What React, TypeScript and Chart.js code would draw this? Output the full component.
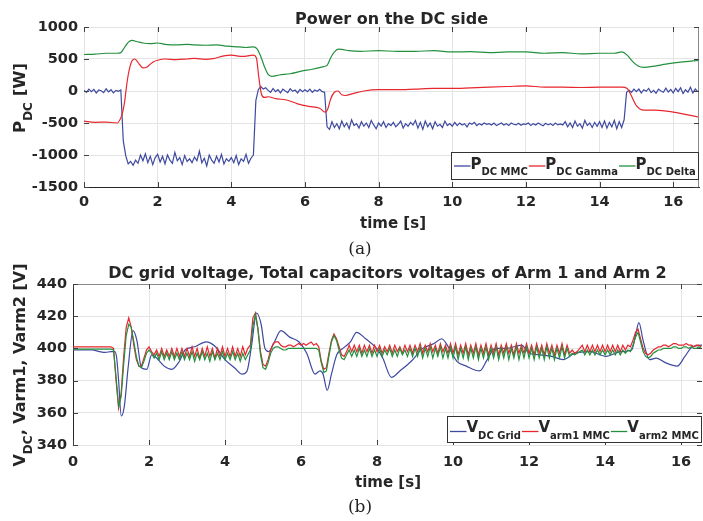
import React, { useEffect, useRef } from "react";
import { Chart, registerables } from "chart.js";

Chart.register(...registerables);

// ---------------- data ----------------
const SAMPLES_PER_SECOND = 15;

// (a) Power on the DC side
const powerTitle = "Power on the DC side";
const powerXMax = 16.7;
const powerYMin = -1500;
const powerYMax = 1000;
const powerYStep = 500;
const timeStep = 2;

// P_DC MMC, one value every 1/15 s (one row per second)
const pMmc = [
  10, -20, 30, -10, 25, -30, 15, 5, -25, 35, -15, 20, -30, 10, -5,
  15, -780, -1010, -1140, -1100, -1160, -1080, -1130, -1000, -1090, -980, -1120, -1020, -1150, -1040,
  -990, -1110, -1020, -1140, -1000, -1080, -1130, -960, -1090, -1040, -1150, -1010, -1100, -1060, -1120,
  -1030, -1090, -940, -1120, -1050, -1170, -1000, -1080, -1130, -1020, -1110, -990, -1140, -1060, -1100,
  -1040, -1120, -1010, -1150, -1060, -1100, -990, -1130, -1050, -1000, -150, 20, 70, 30, 50,
  10, -20, 40, -10, 20, -30, 30, 0, -25, 35, -5, 15, -30, 25, -10,
  20, -10, 30, -20, 15, -5, 25, -10, -20, -560, -600, -480, -570, -510, -590,
  -470, -560, -500, -590, -450, -540, -510, -580, -480, -550, -500, -570, -460, -530, -590,
  -500, -550, -480, -570, -510, -540, -490, -560, -520, -470, -580, -510, -550, -490, -530,
  -460, -580, -490, -600, -470, -560, -500, -590, -480, -550, -520, -570, -470, -540, -510,
  -550, -490, -540, -500, -530, -510, -560, -500, -520, -490, -540, -510, -530, -500, -520,
  -510, -530, -500, -540, -520, -500, -530, -510, -540, -500, -520, -530, -505, -535, -515,
  -520, -500, -540, -510, -530, -500, -525, -545, -505, -530, -510, -540, -500, -530, -515,
  -530, -480, -560, -500, -570, -470, -550, -510, -580, -460, -540, -500, -570, -490, -550,
  -480, -570, -470, -580, -490, -560, -460, -590, -480, -570, -450, -20, 10, -20, 30,
  -10, 30, -30, 20, -5, 40, -25, 10, -35, 30, 0, -20, 45, -15, 25,
  -30, 40, -10, 50, -40, 20, -20, 60, -30, 30, -10,
];

// P_DC Gamma: [time s, power W]
const pGamma: [number, number][] = [
  [0, -470], [0.3, -490], [0.6, -485], [0.9, -500], [1.0, -420], [1.05, -330], [1.1, -180],
  [1.15, 50], [1.2, 250], [1.3, 470], [1.38, 500], [1.5, 420], [1.6, 360], [1.7, 370],
  [1.8, 420], [1.9, 460], [2.0, 480], [2.2, 500], [2.5, 490], [2.8, 500], [3.0, 510],
  [3.3, 495], [3.5, 505], [3.8, 550], [4.0, 560], [4.3, 540], [4.6, 560], [4.68, 520],
  [4.75, 200], [4.82, -50], [4.9, -100], [5.0, -90], [5.2, -120], [5.5, -140], [5.8, -200],
  [6.1, -240], [6.4, -270], [6.55, -330], [6.62, -280], [6.7, -120], [6.8, -20], [6.9, 0],
  [7.0, -60], [7.1, -70], [7.3, -40], [7.6, 0], [8.0, 20], [8.5, 20], [9.0, 30], [9.5, 40],
  [10.0, 40], [10.5, 50], [11.0, 60], [11.5, 70], [12.0, 80], [12.5, 60], [13.0, 60],
  [13.5, 55], [14.0, 60], [14.6, 60], [14.75, 40], [14.85, -60], [15.0, -230], [15.2, -300],
  [15.5, -300], [16.0, -330], [16.7, -410],
];

// P_DC Delta: [time s, power W]
const pDelta: [number, number][] = [
  [0, 570], [0.3, 575], [0.6, 590], [0.9, 590], [1.0, 600], [1.1, 680], [1.2, 760],
  [1.3, 790], [1.45, 770], [1.6, 750], [1.8, 740], [2.0, 750], [2.2, 730], [2.5, 720],
  [2.8, 730], [3.0, 720], [3.3, 715], [3.6, 720], [3.9, 700], [4.2, 690], [4.4, 680],
  [4.6, 690], [4.7, 660], [4.8, 540], [4.9, 380], [5.0, 260], [5.1, 230], [5.3, 250],
  [5.6, 270], [5.9, 310], [6.2, 340], [6.5, 380], [6.6, 400], [6.7, 520], [6.8, 610],
  [6.9, 655], [7.0, 650], [7.2, 630], [7.5, 620], [8.0, 630], [8.5, 620], [9.0, 620],
  [9.5, 630], [10.0, 610], [10.5, 615], [11.0, 600], [11.5, 610], [12.0, 610], [12.5, 590],
  [13.0, 600], [13.5, 580], [14.0, 590], [14.4, 590], [14.6, 610], [14.75, 560], [14.9, 460],
  [15.05, 390], [15.2, 370], [15.5, 390], [15.8, 420], [16.2, 450], [16.7, 480],
];

// (b) DC grid voltage and arm capacitor voltages
const voltTitle = "DC grid voltage, Total capacitors voltages of Arm 1 and Arm 2";
const voltXMax = 16.55;
const voltYMin = 340;
const voltYMax = 440;
const voltYStep = 20;

// V_DC Grid: [time s, voltage V]
const vGrid: [number, number][] = [
  [0, 399], [0.5, 399], [0.7, 398], [0.85, 397.5], [1.0, 398], [1.1, 398], [1.15, 394],
  [1.2, 380], [1.27, 358], [1.35, 364], [1.45, 388], [1.58, 411], [1.68, 405], [1.8, 388],
  [1.94, 387], [2.07, 396], [2.2, 394], [2.4, 389], [2.6, 387], [2.8, 392], [2.95, 399],
  [3.2, 401], [3.5, 404], [3.75, 401], [4.0, 393], [4.25, 388], [4.45, 384], [4.58, 386],
  [4.7, 402], [4.83, 422], [4.95, 415], [5.05, 400], [5.15, 398], [5.3, 404], [5.47, 411],
  [5.7, 407], [5.95, 404], [6.15, 397], [6.37, 384], [6.5, 386], [6.58, 384], [6.69, 374],
  [6.8, 384], [6.94, 396], [7.1, 400], [7.3, 404], [7.46, 410], [7.7, 406], [7.99, 400],
  [8.15, 394], [8.38, 382], [8.6, 386], [8.9, 392], [9.2, 400], [9.5, 403], [9.7, 406],
  [9.9, 400], [10.1, 392], [10.35, 389], [10.7, 386], [10.9, 393], [11.1, 400], [11.4, 400],
  [11.8, 402], [12.0, 397], [12.3, 396], [12.6, 395], [12.9, 393], [13.2, 397], [13.6, 398],
  [14.03, 395], [14.4, 398], [14.7, 399], [14.8, 408], [14.89, 416], [15.0, 405], [15.17, 393],
  [15.35, 394], [15.6, 391], [15.9, 389], [16.1, 395], [16.3, 401], [16.55, 402],
];

// V_arm1 MMC, one value every 1/15 s (one row per second)
const vArm1 = [
  401, 401, 401, 401, 401, 401, 401, 401, 401, 401, 401, 401, 401, 401, 401,
  401, 400, 380, 363, 372, 395, 413, 419, 413, 402, 393, 389, 389, 394, 399,
  401, 398, 396, 399, 395, 400, 395, 399, 395, 400, 395, 400, 395, 400, 395,
  400, 395, 401, 395, 400, 394, 400, 395, 401, 395, 400, 394, 400, 395, 401,
  395, 400, 395, 401, 395, 400, 395, 401, 396, 400, 402, 419, 422, 412, 398,
  390, 389, 393, 399, 403, 404, 404, 402, 401, 401, 402, 402, 401, 402, 403,
  402, 403, 402, 403, 404, 402, 403, 401, 392, 387, 388, 397, 405, 409, 406,
  401, 396, 395, 398, 402, 398, 402, 398, 402, 397, 402, 398, 402, 397, 402,
  398, 402, 397, 401, 398, 402, 397, 402, 398, 401, 397, 402, 398, 402, 397,
  402, 398, 403, 397, 402, 398, 403, 398, 402, 397, 403, 398, 402, 397, 403,
  397, 403, 396, 402, 397, 403, 396, 402, 397, 403, 396, 402, 397, 403, 396,
  402, 397, 403, 396, 402, 397, 403, 397, 402, 396, 403, 397, 402, 397, 403,
  397, 402, 396, 403, 397, 402, 396, 403, 397, 402, 396, 402, 397, 403, 396,
  402, 397, 399, 397, 398, 400, 402, 398, 402, 398, 402, 398, 402, 398, 402,
  398, 402, 398, 402, 398, 402, 398, 402, 399, 402, 401, 405, 410, 412, 406,
  400, 397, 396, 397, 399, 400, 401, 401, 402, 402, 401, 402, 403, 403, 402,
  402, 402, 403, 402, 402, 401, 402, 402, 401,
];

// V_arm2 MMC, one value every 1/15 s (one row per second)
const vArm2 = [
  399.5, 399.5, 399.5, 399.5, 399.5, 399.5, 399.5, 399.5, 399.5, 399.5, 399.5, 399.5, 399.5, 399.5, 399.5,
  399.5, 399, 382, 364, 370, 390, 408, 415, 413, 404, 395, 389, 388, 392, 397,
  399, 397, 394, 397, 393, 398, 393, 397, 393, 398, 393, 397, 393, 398, 393,
  397, 393, 398, 392, 397, 393, 398, 393, 397, 392, 398, 393, 397, 393, 398,
  393, 397, 393, 398, 393, 397, 392, 397, 393, 396, 399, 414, 421, 412, 396,
  388, 387, 391, 397, 400, 401, 401, 400, 399, 399, 400, 400, 400, 400, 400,
  400, 400, 400, 400, 400, 400, 400, 399, 391, 385, 386, 395, 404, 408, 405,
  399, 394, 393, 396, 399, 395, 399, 395, 400, 395, 399, 395, 400, 395, 399,
  395, 400, 395, 399, 396, 400, 395, 399, 395, 400, 396, 399, 395, 400, 395,
  400, 395, 401, 394, 400, 395, 401, 394, 400, 395, 401, 394, 400, 394, 401,
  394, 401, 393, 400, 394, 401, 393, 400, 394, 401, 393, 400, 394, 401, 393,
  400, 394, 401, 393, 400, 394, 401, 393, 400, 394, 401, 393, 400, 394, 401,
  394, 400, 393, 401, 394, 400, 393, 401, 394, 400, 393, 400, 394, 401, 394,
  400, 395, 397, 396, 397, 398, 399, 396, 399, 396, 399, 396, 399, 396, 399,
  396, 399, 396, 399, 396, 399, 396, 399, 397, 399, 398, 402, 407, 410, 404,
  398, 395, 394, 395, 397, 398, 399, 399, 400, 400, 400, 400, 401, 401, 400,
  400, 401, 401, 400, 401, 400, 400, 401, 400,
];

// ---------------- styling ----------------
const FONT = "'DejaVu Sans', 'Liberation Sans', Arial, sans-serif";
const INK = "#262626";
const GRID = "#e4e4e4";
const BLUE = "#3e4aa0";
const RED = "#e8262d";
const GREEN = "#23903f";

type RichPart = { text: string; sub?: boolean };

interface Decor {
  title: string;
  titleSize: number;
  titleBaseline: number;
  xTitle: string;
  xTitleSize: number;
  xTitleBaseline: number;
  xTitleShift: number;
  yTitle: RichPart[];
  yTitleSize: number;
  yTitleSubSize: number;
  yTitleSubDy: number;
  yTitleX: number;
  yTitleShift: number;
  frameTop: boolean;
  frameRight: boolean;
  legend: {
    items: { color: string; parts: RichPart[] }[];
    top: number;
    height: number;
    lineDy: number;
    baseDy: number;
    size: number;
    subSize: number;
    subDy: number;
  };
}

function richWidth(ctx: CanvasRenderingContext2D, parts: RichPart[], size: number, subSize: number) {
  let w = 0;
  for (const p of parts) {
    ctx.font = `bold ${p.sub ? subSize : size}px ${FONT}`;
    w += ctx.measureText(p.text).width;
  }
  return w;
}

function drawRich(
  ctx: CanvasRenderingContext2D,
  parts: RichPart[],
  x: number,
  y: number,
  size: number,
  subSize: number,
  subDy: number
) {
  let cx = x;
  for (const p of parts) {
    ctx.font = `bold ${p.sub ? subSize : size}px ${FONT}`;
    ctx.fillText(p.text, cx, p.sub ? y + subDy : y);
    cx += ctx.measureText(p.text).width;
  }
  return cx;
}

function makeDecorPlugin(cfg: Decor) {
  return {
    id: "decor",
    afterDatasetsDraw(chart: any) {
      const ctx: CanvasRenderingContext2D = chart.ctx;
      const { left, right, top, bottom } = chart.chartArea;
      const xs = chart.scales.x;
      const ys = chart.scales.y;
      ctx.save();
      ctx.lineWidth = 1;
      const seg = (x0: number, y0: number, x1: number, y1: number) => {
        ctx.beginPath();
        ctx.moveTo(x0, y0);
        ctx.lineTo(x1, y1);
        ctx.stroke();
      };
      // box lines
      ctx.strokeStyle = "#8a8a8a";
      if (cfg.frameTop) seg(left, Math.round(top) + 0.5, right, Math.round(top) + 0.5);
      if (cfg.frameRight) seg(Math.round(right) - 0.5, top, Math.round(right) - 0.5, bottom);
      // inward tick marks
      ctx.strokeStyle = "#404040";
      xs.ticks.forEach((t: any) => {
        const px = Math.round(xs.getPixelForValue(t.value)) + 0.5;
        seg(px, bottom, px, bottom - 5);
        seg(px, top, px, top + 5);
      });
      ys.ticks.forEach((t: any) => {
        const py = Math.round(ys.getPixelForValue(t.value)) + 0.5;
        seg(left, py, left + 5, py);
        seg(right, py, right - 5, py);
      });
      // title
      ctx.fillStyle = INK;
      ctx.textBaseline = "alphabetic";
      ctx.textAlign = "center";
      ctx.font = `bold ${cfg.titleSize}px ${FONT}`;
      ctx.fillText(cfg.title, (left + right) / 2, cfg.titleBaseline);
      // x title
      ctx.font = `bold ${cfg.xTitleSize}px ${FONT}`;
      ctx.fillText(cfg.xTitle, (left + right) / 2 + cfg.xTitleShift, cfg.xTitleBaseline);
      // y title
      ctx.textAlign = "left";
      ctx.save();
      ctx.translate(cfg.yTitleX, (top + bottom) / 2 + cfg.yTitleShift);
      ctx.rotate(-Math.PI / 2);
      const yw = richWidth(ctx, cfg.yTitle, cfg.yTitleSize, cfg.yTitleSubSize);
      drawRich(ctx, cfg.yTitle, -yw / 2, 0, cfg.yTitleSize, cfg.yTitleSubSize, cfg.yTitleSubDy);
      ctx.restore();
      // legend
      const L = cfg.legend;
      const lineLen = 16.5;
      const padL = 3;
      const padR = 2;
      const widths = L.items.map((it) => lineLen + richWidth(ctx, it.parts, L.size, L.subSize) + 1);
      const total = padL + widths.reduce((a, b) => a + b, 0) + padR;
      const bx0 = Math.round(right - total);
      ctx.fillStyle = "#ffffff";
      ctx.fillRect(bx0, L.top, right - bx0, L.height);
      ctx.strokeStyle = "#333333";
      ctx.strokeRect(bx0 + 0.5, L.top + 0.5, right - bx0 - 1, L.height - 1);
      let x = bx0 + padL;
      L.items.forEach((it) => {
        ctx.strokeStyle = it.color;
        ctx.lineWidth = 1.3;
        seg(x, L.top + L.lineDy, x + lineLen, L.top + L.lineDy);
        ctx.fillStyle = INK;
        x = drawRich(ctx, it.parts, x + lineLen, L.top + L.baseDy, L.size, L.subSize, L.subDy) + 1;
      });
      ctx.restore();
    },
  };
}

function dense(values: number[]) {
  return values.map((v, i) => ({ x: i / SAMPLES_PER_SECOND, y: v }));
}
function pairs(p: [number, number][]) {
  return p.map(([x, y]) => ({ x, y }));
}

const tickFont = { family: FONT, size: 14.5, weight: "bold" as const };

function lineDataset(
  label: string,
  data: { x: number; y: number }[],
  color: string,
  order: number,
  smooth: boolean
) {
  return {
    label,
    data,
    borderColor: color,
    backgroundColor: color,
    borderWidth: 1.2,
    pointRadius: 0,
    tension: smooth ? 0.4 : 0,
    cubicInterpolationMode: smooth ? "monotone" : "default",
    fill: false,
    order,
  };
}

function makeConfig(opts: {
  datasets: any[];
  xMax: number;
  yMin: number;
  yMax: number;
  yStep: number;
  padding: { left: number; right: number; top: number; bottom: number };
  yWidth: number;
  xHeight: number;
  xTickPad: number;
  xBorder: boolean;
  yBorder: boolean;
  decor: Decor;
}): any {
  return {
    type: "line",
    data: { datasets: opts.datasets },
    plugins: [makeDecorPlugin(opts.decor)],
    options: {
      responsive: false,
      animation: false,
      parsing: false,
      layout: { padding: opts.padding },
      plugins: { legend: { display: false }, title: { display: false }, tooltip: { enabled: false } },
      scales: {
        x: {
          type: "linear",
          min: 0,
          max: opts.xMax,
          afterFit: (s: any) => {
            s.height = opts.xHeight;
          },
          ticks: {
            stepSize: timeStep,
            includeBounds: false,
            padding: opts.xTickPad,
            color: INK,
            font: tickFont,
            maxRotation: 0,
            autoSkip: false,
            callback: (v: any) => String(v),
          },
          grid: { color: GRID, drawTicks: false, lineWidth: 1 },
          border: { display: opts.xBorder, color: INK, width: 1 },
        },
        y: {
          type: "linear",
          min: opts.yMin,
          max: opts.yMax,
          afterFit: (s: any) => {
            s.width = opts.yWidth;
          },
          ticks: {
            stepSize: opts.yStep,
            includeBounds: false,
            padding: 6,
            color: INK,
            font: tickFont,
            callback: (v: any) => String(v),
          },
          grid: { color: GRID, drawTicks: false, lineWidth: 1 },
          border: { display: opts.yBorder, color: INK, width: 1 },
        },
      },
    },
  };
}

function powerConfig() {
  return makeConfig({
    datasets: [
      lineDataset("P DC MMC", dense(pMmc), BLUE, 3, false),
      lineDataset("P DC Gamma", pairs(pGamma), RED, 2, true),
      lineDataset("P DC Delta", pairs(pDelta), GREEN, 1, true),
    ],
    xMax: powerXMax,
    yMin: powerYMin,
    yMax: powerYMax,
    yStep: powerYStep,
    padding: { left: 0, right: 4, top: 27, bottom: 0 },
    yWidth: 84,
    xHeight: 63,
    xTickPad: 7,
    xBorder: true,
    yBorder: false,
    decor: {
      title: powerTitle,
      titleSize: 16,
      titleBaseline: 24,
      xTitle: "time [s]",
      xTitleSize: 15,
      xTitleBaseline: 228,
      xTitleShift: 1.5,
      yTitle: [{ text: "P" }, { text: "DC", sub: true }, { text: " [W]" }],
      yTitleSize: 16.5,
      yTitleSubSize: 12,
      yTitleSubDy: 7,
      yTitleX: 25,
      yTitleShift: -9,
      frameTop: false,
      frameRight: true,
      legend: {
        items: [
          { color: BLUE, parts: [{ text: "P" }, { text: "DC MMC", sub: true }] },
          { color: RED, parts: [{ text: "P" }, { text: "DC Gamma", sub: true }] },
          { color: GREEN, parts: [{ text: "P" }, { text: "DC Delta", sub: true }] },
        ],
        top: 152,
        height: 28,
        lineDy: 14,
        baseDy: 16.5,
        size: 15,
        subSize: 10,
        subDy: 6.5,
      },
    },
  });
}

function voltageConfig() {
  return makeConfig({
    datasets: [
      lineDataset("V DC Grid", pairs(vGrid), BLUE, 3, true),
      lineDataset("V arm1 MMC", dense(vArm1), RED, 2, false),
      lineDataset("V arm2 MMC", dense(vArm2), GREEN, 1, false),
    ],
    xMax: voltXMax,
    yMin: voltYMin,
    yMax: voltYMax,
    yStep: voltYStep,
    padding: { left: 0, right: 1, top: 34, bottom: 0 },
    yWidth: 73,
    xHeight: 76,
    xTickPad: 9,
    xBorder: false,
    yBorder: true,
    decor: {
      title: voltTitle,
      titleSize: 16,
      titleBaseline: 27.5,
      xTitle: "time [s]",
      xTitleSize: 15,
      xTitleBaseline: 236.5,
      xTitleShift: 0.5,
      yTitle: [
        { text: "V" },
        { text: "DC", sub: true },
        { text: ", Varm1, Varm2 [V]" },
      ],
      yTitleSize: 16,
      yTitleSubSize: 12,
      yTitleSubDy: 7,
      yTitleX: 25,
      yTitleShift: 0.5,
      frameTop: true,
      frameRight: false,
      legend: {
        items: [
          { color: BLUE, parts: [{ text: "V" }, { text: "DC Grid", sub: true }] },
          { color: RED, parts: [{ text: "V" }, { text: "arm1 MMC", sub: true }] },
          { color: GREEN, parts: [{ text: "V" }, { text: "arm2 MMC", sub: true }] },
        ],
        top: 166,
        height: 27,
        lineDy: 15.5,
        baseDy: 16,
        size: 15,
        subSize: 10,
        subDy: 6.5,
      },
    },
  });
}

export default function App() {
  const topRef = useRef<HTMLCanvasElement>(null);
  const botRef = useRef<HTMLCanvasElement>(null);

  useEffect(() => {
    const c1 = new Chart(topRef.current as HTMLCanvasElement, powerConfig());
    const c2 = new Chart(botRef.current as HTMLCanvasElement, voltageConfig());
    return () => {
      c1.destroy();
      c2.destroy();
    };
  }, []);

  const caption: React.CSSProperties = {
    position: "absolute",
    left: 310,
    width: 100,
    textAlign: "center",
    fontFamily: "'DejaVu Serif', 'Liberation Serif', serif",
    fontSize: 17,
    lineHeight: "20px",
    color: "#222",
  };

  return (
    <div style={{ position: "absolute", left: 0, top: 0, width: 703, height: 521, background: "#ffffff", overflow: "hidden" }}>
      <canvas ref={topRef} width={703} height={250} style={{ position: "absolute", left: 0, top: 0, display: "block" }} />
      <canvas ref={botRef} width={703} height={271} style={{ position: "absolute", left: 0, top: 250, display: "block" }} />
      <div style={{ ...caption, top: 238 }}>(a)</div>
      <div style={{ ...caption, top: 496 }}>(b)</div>
    </div>
  );
}
